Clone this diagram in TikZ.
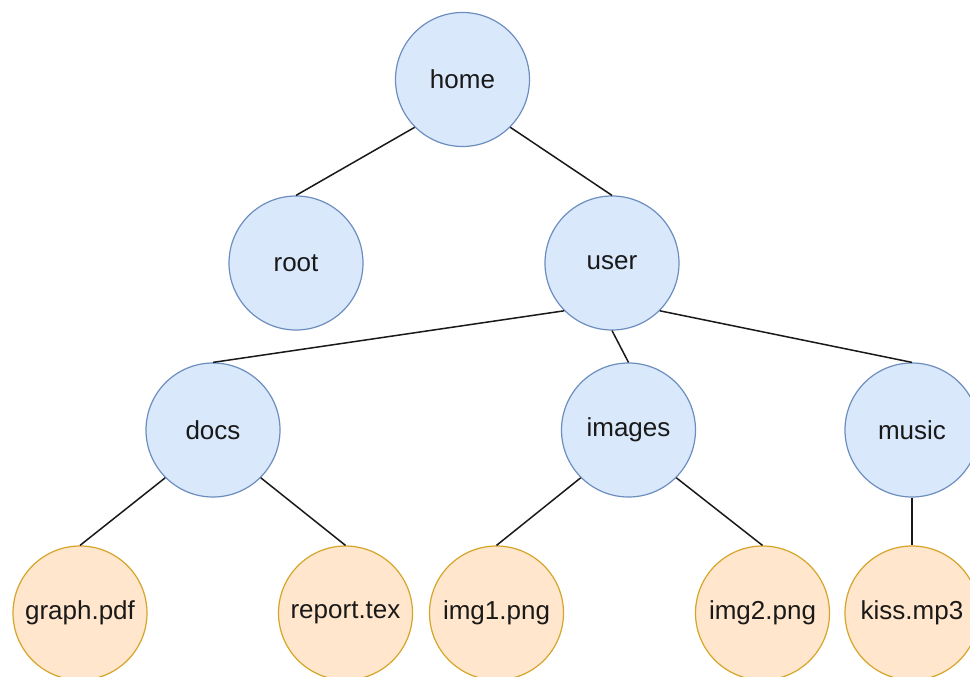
\documentclass[tikz,border=0pt]{standalone}
\usepackage{fontspec}
\setmainfont{Liberation Sans}
\definecolor{bfill}{HTML}{DAE8FC}
\definecolor{bdraw}{HTML}{6C8EBF}
\definecolor{ofill}{HTML}{FFE6CC}
\definecolor{odraw}{HTML}{D6A528}
\begin{document}
\begin{tikzpicture}[x=1pt,y=-1pt,
  dirnode/.style={circle,draw=bdraw,fill=bfill,line width=1.2pt,minimum size=134pt,inner sep=0pt,font=\fontsize{26}{31}\selectfont,text=black!90},
  filenode/.style={circle,draw=odraw,fill=ofill,line width=1.2pt,minimum size=134pt,inner sep=0pt,font=\fontsize{26}{31}\selectfont,text=black!90},
  edge/.style={line width=1.5pt,draw=black!90}]
\useasboundingbox (0,0) rectangle (970,677);
\node[dirnode] (home) at (462.5,79.5) {home};
\node[dirnode] (root) at (296,263) {root};
\node[dirnode] (user) at (612,263) {user};
\node[dirnode] (docs) at (213,430) {docs};
\node[dirnode] (images) at (628.5,430) {images};
\node[dirnode] (music) at (912,430) {music};
\node[filenode] (graph) at (80,613) {graph.pdf};
\node[filenode] (report) at (345.5,613) {report.tex};
\node[filenode] (img1) at (496.5,613) {img1.png};
\node[filenode] (img2) at (762.5,613) {img2.png};
\node[filenode] (kiss) at (912,613) {kiss.mp3};
\draw[edge] (home.south west) -- (root.north);
\draw[edge] (home.south east) -- (user.north);
\draw[edge] (user.south west) -- (docs.north);
\draw[edge] (user.south) -- (images.north);
\draw[edge] (user.south east) -- (music.north);
\draw[edge] (docs.south west) -- (graph.north);
\draw[edge] (docs.south east) -- (report.north);
\draw[edge] (images.south west) -- (img1.north);
\draw[edge] (images.south east) -- (img2.north);
\draw[edge] (music.south) -- (kiss.north);
\end{tikzpicture}
\end{document}
